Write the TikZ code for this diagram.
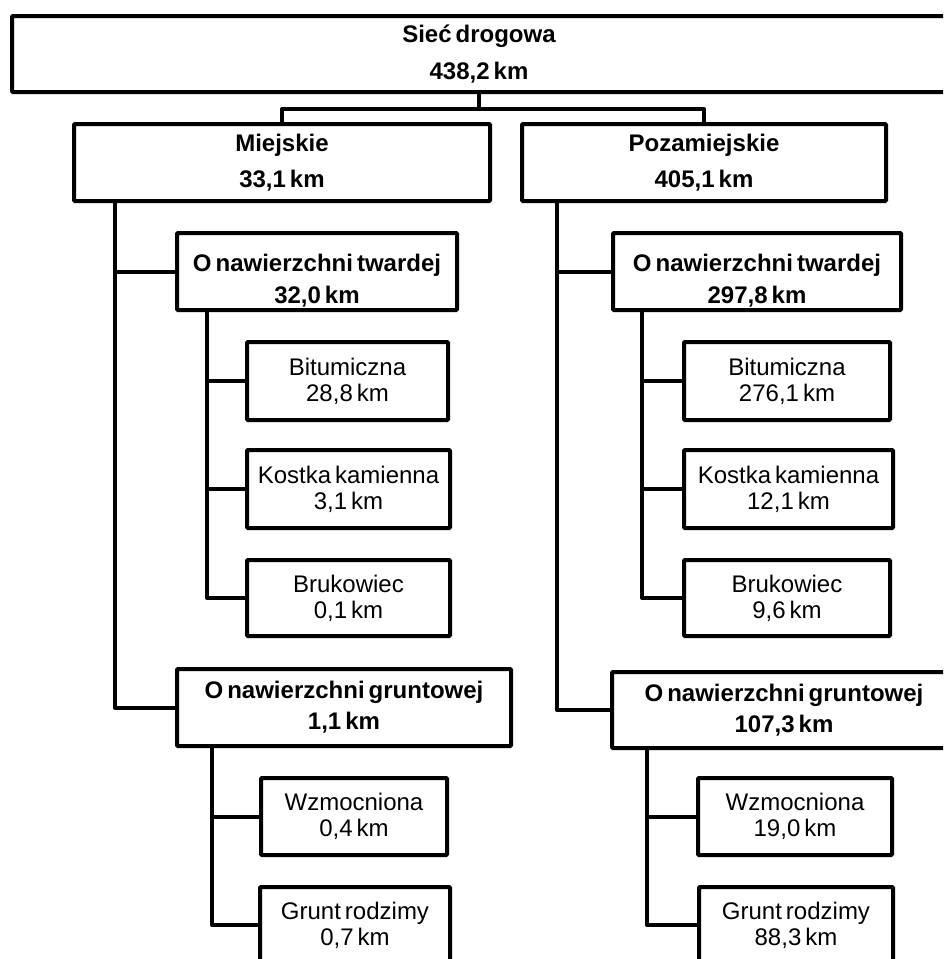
\documentclass[tikz,border=0pt]{standalone}
\usepackage{fontspec}
\setmainfont{Liberation Sans}[WordSpace=0.6]
\begin{document}
\begin{tikzpicture}[x=1pt,y=-1pt,
  box/.style={draw=black, line width=4pt, inner sep=0pt, align=center, fill=white, rounded corners=1pt},
  hb/.style={font={\fontsize{24}{#1}\selectfont\bfseries}},
  rb/.style={font={\fontsize{24}{26}\selectfont}},
  conn/.style={line width=4pt, line join=round, line cap=rect}]
\useasboundingbox (0,0) rectangle (943,959);
\fill[white] (0,0) rectangle (943,959);
\clip (0,0) rectangle (943,959);

% top
\node[box,hb=37,minimum width=934pt,minimum height=76pt] (top) at (479,54) {Sieć drogowa\\438,2 km};
\node[box,hb=36,minimum width=416pt,minimum height=77pt] (mie) at (282,162.5) {Miejskie\\33,1 km};
\node[box,hb=36,minimum width=364pt,minimum height=77pt] (poz) at (704,162.5) {Pozamiejskie\\405,1 km};

% left branch
\node[box,minimum width=280pt,minimum height=77pt,
  label={[hb=32,align=center,yshift=-9.5pt]center:O nawierzchni twardej\\32,0 km}] (twL) at (317,271.5) {};
\node[box,rb,minimum width=201pt,minimum height=78pt] (bitL) at (347.5,381) {Bitumiczna\\28,8 km};
\node[box,rb,minimum width=203pt,minimum height=78pt] (kosL) at (348.5,489) {Kostka kamienna\\3,1 km};
\node[box,rb,minimum width=203pt,minimum height=76pt] (bruL) at (348.5,598) {Brukowiec\\0,1 km};
\node[box,hb=31,minimum width=334pt,minimum height=77pt] (grL) at (344,707.5) {O nawierzchni gruntowej\\1,1 km};
\node[box,rb,minimum width=186pt,minimum height=77pt] (wzL) at (354,816.5) {Wzmocniona\\0,4 km};
\node[box,rb,minimum width=190pt,minimum height=76pt] (gnL) at (355,925) {Grunt rodzimy\\0,7 km};

% right branch
\node[box,minimum width=288pt,minimum height=77pt,
  label={[hb=32,align=center,yshift=-9.5pt]center:O nawierzchni twardej\\297,8 km}] (twR) at (757,271.5) {};
\node[box,rb,minimum width=206pt,minimum height=78pt] (bitR) at (787,381) {Bitumiczna\\276,1 km};
\node[box,rb,minimum width=209pt,minimum height=78pt] (kosR) at (788.5,489) {Kostka kamienna\\12,1 km};
\node[box,rb,minimum width=206pt,minimum height=76pt] (bruR) at (787,598) {Brukowiec\\9,6 km};
\node[box,hb=31,minimum width=344pt,minimum height=76pt] (grR) at (784,710) {O nawierzchni gruntowej\\107,3 km};
\node[box,rb,minimum width=194pt,minimum height=77pt] (wzR) at (795,816.5) {Wzmocniona\\19,0 km};
\node[box,rb,minimum width=194pt,minimum height=76pt] (gnR) at (796,925) {Grunt rodzimy\\88,3 km};

% connectors
\coordinate (bus) at (479,109);
\draw[conn] (top.south) -- (bus);
\draw[conn] (mie.north) |- (bus) -| (poz.north);

\coordinate (tL) at (115,201);
\draw[conn] (tL) |- (grL.west);
\draw[conn] (tL |- twL.west) -- (twL.west);
\coordinate (sL) at (207,310);
\draw[conn] (sL) |- (bruL.west);
\draw[conn] (sL |- bitL.west) -- (bitL.west);
\draw[conn] (sL |- kosL.west) -- (kosL.west);
\coordinate (sL2) at (212,746);
\draw[conn] (sL2) |- (gnL.west);
\draw[conn] (sL2 |- wzL.west) -- (wzL.west);

\coordinate (tR) at (557,201);
\draw[conn] (tR) |- (grR.west);
\draw[conn] (tR |- twR.west) -- (twR.west);
\coordinate (sR) at (642,310);
\draw[conn] (sR) |- (bruR.west);
\draw[conn] (sR |- bitR.west) -- (bitR.west);
\draw[conn] (sR |- kosR.west) -- (kosR.west);
\coordinate (sR2) at (647,748);
\draw[conn] (sR2) |- (gnR.west);
\draw[conn] (sR2 |- wzR.west) -- (wzR.west);
\end{tikzpicture}
\end{document}
